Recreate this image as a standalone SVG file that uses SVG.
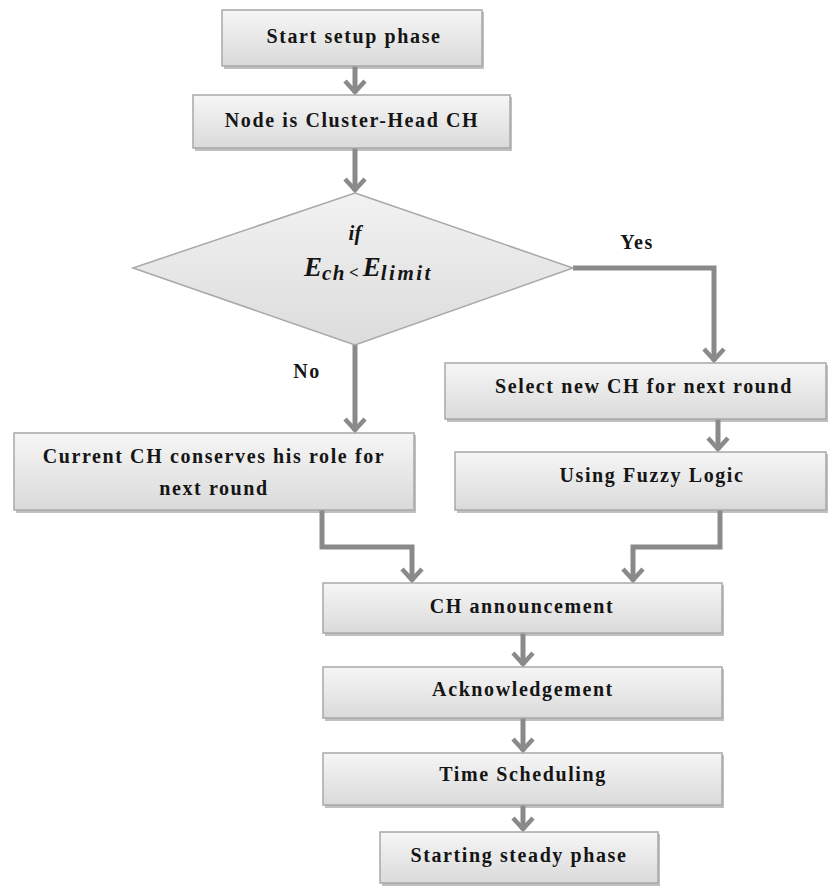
<svg xmlns="http://www.w3.org/2000/svg" width="835" height="888" viewBox="0 0 835 888">
<defs>
<linearGradient id="g" x1="0" y1="0" x2="0" y2="1">
<stop offset="0" stop-color="#f6f6f6"/>
<stop offset="1" stop-color="#dadada"/>
</linearGradient>
<linearGradient id="gd" x1="0" y1="0" x2="0" y2="1">
<stop offset="0" stop-color="#f2f2f2"/>
<stop offset="1" stop-color="#dcdcdc"/>
</linearGradient>
<marker id="ah" viewBox="0 0 16 24" refX="14" refY="12" markerWidth="16" markerHeight="24" markerUnits="userSpaceOnUse" orient="auto">
<path d="M2,2 L13,12 L2,22" fill="none" stroke="#8a8a8a" stroke-width="4.5"/>
</marker>
</defs>
<style>
.box{fill:url(#g);stroke:#a8a8a8;stroke-width:1.5}
.sh{fill:#8c8c8c;opacity:0.55}
.t{font-family:"Liberation Serif","Times New Roman",serif;font-weight:bold;font-size:20px;fill:#151515;text-anchor:middle;letter-spacing:1.6px}
.c{fill:none;stroke:#8a8a8a;stroke-width:5}
.m{font-family:"Liberation Serif","Times New Roman",serif;font-weight:bold;font-style:italic;fill:#151515}
</style>
<rect width="835" height="888" fill="#ffffff"/>
<g id="connectors">
<path class="c" d="M355,66 V93" marker-end="url(#ah)"/>
<path class="c" d="M355,148 V191" marker-end="url(#ah)"/>
<path class="c" d="M573,268 H714 V361" marker-end="url(#ah)"/>
<path class="c" d="M355,345 V431" marker-end="url(#ah)"/>
<path class="c" d="M718,419 V450" marker-end="url(#ah)"/>
<path class="c" d="M322,510 V547 H412 V581" marker-end="url(#ah)"/>
<path class="c" d="M720,510 V547 H633 V581" marker-end="url(#ah)"/>
<path class="c" d="M523,633 V665" marker-end="url(#ah)"/>
<path class="c" d="M523,718 V751" marker-end="url(#ah)"/>
<path class="c" d="M523,805 V830" marker-end="url(#ah)"/>
<text class="t" x="637" y="249">Yes</text>
<text class="t" x="307" y="378">No</text>
</g>
<g id="n1">
<rect class="sh" x="224" y="12" width="260" height="57"/>
<rect class="box" x="222" y="10" width="260" height="56"/>
<text class="t" x="354" y="43">Start setup phase</text>
</g>
<g id="n2">
<rect class="sh" x="195" y="97" width="317" height="54"/>
<rect class="box" x="193" y="95" width="317" height="53"/>
<text class="t" x="352" y="127">Node is Cluster-Head CH</text>
</g>
<g id="n3">
<polygon points="355,193 573,268 355,345 133,268" fill="url(#gd)" stroke="#a8a8a8" stroke-width="1.5"/>
<text class="m" x="355" y="240" font-size="21" text-anchor="middle">if</text>
<text class="m" x="304" y="276" font-size="27"><tspan>E</tspan><tspan font-size="21" dy="4" letter-spacing="1.5">ch</tspan><tspan font-size="17" font-style="normal" dx="3" dy="-2">&lt;</tspan><tspan dx="4" dy="-2">E</tspan><tspan font-size="21" dy="4" letter-spacing="2.5">limit</tspan></text>
</g>
<g id="n4">
<rect class="sh" x="16" y="435" width="400" height="78"/>
<rect class="box" x="14" y="433" width="400" height="77"/>
<text class="t" x="214" y="463">Current CH conserves his role for</text>
<text class="t" x="214" y="495">next round</text>
</g>
<g id="n5">
<rect class="sh" x="447" y="365" width="381" height="57"/>
<rect class="box" x="445" y="363" width="381" height="56"/>
<text class="t" x="644" y="393">Select new CH for next round</text>
</g>
<g id="n6">
<rect class="sh" x="457" y="454" width="371" height="59"/>
<rect class="box" x="455" y="452" width="371" height="58"/>
<text class="t" x="652" y="482">Using Fuzzy Logic</text>
</g>
<g id="n7">
<rect class="sh" x="325" y="585" width="399" height="51"/>
<rect class="box" x="323" y="583" width="399" height="50"/>
<text class="t" x="522" y="613">CH announcement</text>
</g>
<g id="n8">
<rect class="sh" x="325" y="669" width="399" height="52"/>
<rect class="box" x="323" y="667" width="399" height="51"/>
<text class="t" x="523" y="696">Acknowledgement</text>
</g>
<g id="n9">
<rect class="sh" x="325" y="755" width="399" height="53"/>
<rect class="box" x="323" y="753" width="399" height="52"/>
<text class="t" x="523" y="781">Time Scheduling</text>
</g>
<g id="n10">
<rect class="sh" x="382" y="834" width="278" height="52"/>
<rect class="box" x="380" y="832" width="278" height="51"/>
<text class="t" x="519" y="862">Starting steady phase</text>
</g>
</svg>
